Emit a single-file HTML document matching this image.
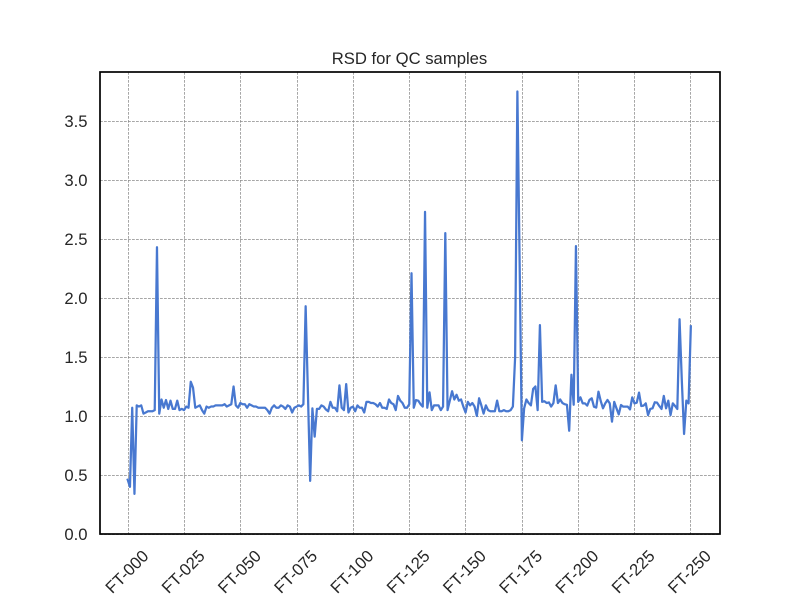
<!DOCTYPE html>
<html>
<head>
<meta charset="utf-8">
<title>RSD for QC samples</title>
<style>
html,body{margin:0;padding:0;background:#fff;}
svg{display:block;font-family:"Liberation Sans",Arial,sans-serif;}
text{fill:#262626;}
</style>
</head>
<body>
<svg id="chart" xmlns="http://www.w3.org/2000/svg" width="800" height="600" viewBox="0 0 800 600">
  <rect x="0" y="0" width="800" height="600" fill="#ffffff"/>
  <g id="grid"></g>
  <g id="series"></g>
  <rect x="100" y="72" width="620" height="462" fill="none" stroke="#000000" stroke-width="1.7"/>
  <g id="xlabels"></g>
  <g id="ylabels"></g>
  <text x="409.5" y="64" text-anchor="middle" font-size="16.67px">RSD for QC samples</text>
</svg>
<script>
const rsdValues = [
  0.46,0.40,1.07,0.34,1.09,1.08,1.09,1.02,1.03,1.04,
  1.04,1.04,1.05,2.43,1.02,1.14,1.07,1.135,1.06,1.13,
  1.06,1.06,1.13,1.05,1.06,1.05,1.08,1.07,1.29,1.24,
  1.07,1.08,1.09,1.05,1.02,1.08,1.07,1.08,1.08,1.09,
  1.09,1.09,1.09,1.10,1.08,1.09,1.10,1.25,1.09,1.07,
  1.11,1.10,1.10,1.07,1.10,1.09,1.08,1.08,1.07,1.07,
  1.07,1.07,1.05,1.02,1.07,1.09,1.07,1.07,1.09,1.08,
  1.06,1.09,1.08,1.03,1.07,1.08,1.09,1.08,1.10,1.93,
  1.20,0.45,1.065,0.825,1.06,1.06,1.09,1.08,1.055,1.04,
  1.12,1.07,1.07,1.04,1.26,1.07,1.05,1.27,1.03,1.07,
  1.08,1.04,1.09,1.07,1.07,1.03,1.12,1.12,1.11,1.11,
  1.10,1.08,1.11,1.07,1.07,1.06,1.14,1.11,1.10,1.05,
  1.17,1.13,1.11,1.07,1.07,1.10,2.21,1.07,1.135,1.13,
  1.10,1.08,2.73,1.07,1.20,1.05,1.09,1.09,1.09,1.05,
  1.08,2.55,1.05,1.13,1.21,1.14,1.18,1.13,1.14,1.08,
  1.03,1.12,1.09,1.11,1.08,1.00,1.15,1.09,1.02,1.09,
  1.05,1.04,1.04,1.04,1.13,1.04,1.04,1.05,1.04,1.04,
  1.05,1.08,1.50,3.75,2.30,0.795,1.065,1.14,1.11,1.09,
  1.23,1.25,1.05,1.77,1.12,1.125,1.11,1.115,1.08,1.11,
  1.26,1.11,1.14,1.11,1.10,1.095,0.875,1.35,1.095,2.44,
  1.12,1.158,1.107,1.107,1.088,1.136,1.15,1.079,1.071,1.206,
  1.127,1.065,1.107,1.136,1.107,0.952,1.12,1.065,1.014,1.093,
  1.079,1.079,1.079,1.056,1.158,1.107,1.113,1.198,1.085,1.088,
  1.107,1.008,1.06,1.065,1.116,1.113,1.085,1.06,1.17,1.065,
  1.13,1.008,1.107,1.085,1.06,1.82,1.30,0.848,1.13,1.107,
  1.76
];
const xTickIndex = [0,25,50,75,100,125,150,175,200,225,250];
const xTickLabels = ["FT-000","FT-025","FT-050","FT-075","FT-100","FT-125","FT-150","FT-175","FT-200","FT-225","FT-250"];
const yTickValues = [0,0.5,1,1.5,2,2.5,3,3.5];
const yTickLabels = ["0.0","0.5","1.0","1.5","2.0","2.5","3.0","3.5"];

const NS = "http://www.w3.org/2000/svg";
function xScale(i){ return 127.7 + 2.2525 * i; }
function xTickPos(i){ return 128.3 + 2.25 * i; }
function yScale(v){ return 534 - 118 * v; }

const gridG = document.getElementById("grid");
const seriesG = document.getElementById("series");
const xG = document.getElementById("xlabels");
const yG = document.getElementById("ylabels");

function gridLine(x1,y1,x2,y2){
  const l = document.createElementNS(NS,"line");
  l.setAttribute("x1",x1);
  l.setAttribute("y1",y1);
  l.setAttribute("x2",x2);
  l.setAttribute("y2",y2);
  l.setAttribute("stroke","#8a8a8a");
  l.setAttribute("stroke-width","0.75");
  l.setAttribute("stroke-dasharray","2.8 1.2");
  return l;
}

xTickIndex.forEach(function(idx,k){
  const x = xTickPos(idx);
  const sx = Math.floor(x) + 0.5;
  const l = gridLine(sx,72,sx,534);
  
  
  gridG.appendChild(l);
  const t = document.createElementNS(NS,"text");
  
  
  t.setAttribute("x",x-1.6);
  t.setAttribute("y",577.5);
  t.setAttribute("text-anchor","middle");
  t.setAttribute("font-size","16.67px");
  t.setAttribute("transform","rotate(-45 "+(x-1.6)+" 571.5)");
  t.textContent = xTickLabels[k];
  xG.appendChild(t);
});

yTickValues.forEach(function(v,k){
  const y = yScale(v);
  const sy = Math.floor(y) + 0.5;
  const l = gridLine(100,sy,720,sy);
  
  
  gridG.appendChild(l);
  const t = document.createElementNS(NS,"text");
  
  
  t.setAttribute("x",87.5);
  t.setAttribute("y",y+6);
  t.setAttribute("text-anchor","end");
  t.setAttribute("font-size","16.67px");
  t.textContent = yTickLabels[k];
  yG.appendChild(t);
});

const path = document.createElementNS(NS,"path");


path.setAttribute("d", rsdValues.map(function(v,i){
  return (i ? "L" : "M") + xScale(i).toFixed(2) + " " + yScale(v).toFixed(2);
}).join(" "));
path.setAttribute("fill","none");
path.setAttribute("stroke","#4878d0");
path.setAttribute("stroke-width","2.25");
path.setAttribute("stroke-linejoin","round");
path.setAttribute("stroke-linecap","square");
seriesG.appendChild(path);
</script>
</body>
</html>
